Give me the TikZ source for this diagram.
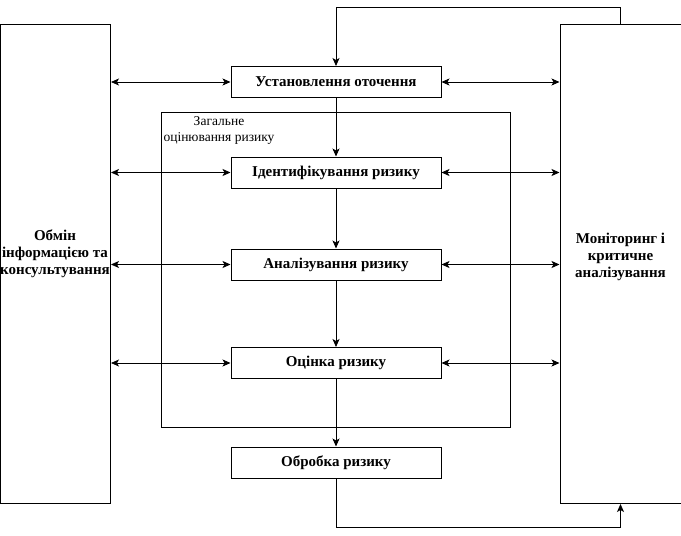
\documentclass[tikz,border=0pt]{standalone}
\usepackage{fontspec}
\setmainfont{Liberation Serif}
\usetikzlibrary{arrows.meta}
\begin{document}
\begin{tikzpicture}[x=1pt,y=-1pt,
  stepbox/.style={draw,line width=1pt,minimum width=210pt,minimum height=31pt,inner sep=0pt,font=\bfseries\fontsize{15}{17}\selectfont},
  sidebox/.style={draw,line width=1pt,inner sep=0pt},
  sidetext/.style={font=\bfseries\fontsize{15}{17}\selectfont,align=center,inner sep=0pt},
  conn/.style={line width=0.8pt,-{Stealth[length=8pt,width=7pt,inset=2pt]}},
  biconn/.style={line width=0.8pt,{Stealth[length=8pt,width=7pt,inset=2pt]}-{Stealth[length=8pt,width=7pt,inset=2pt]}}]
\useasboundingbox (0,0) rectangle (681,536);
% side boxes
\node[sidebox,minimum width=110pt,minimum height=479pt] (left) at (55.5,264) {};
\node[sidebox,minimum width=121pt,minimum height=479pt] (right) at (620.5,264) {};
\node[sidetext] (lefttext) at (55,254) {Обмін\\інформацією та\\консультування};
\node[sidetext] (righttext) at (620.5,257) {Моніторинг і\\критичне\\аналізування};
% frame
\node[draw,line width=1pt,minimum width=349pt,minimum height=315pt,inner sep=0pt] (frame) at (335.5,269.5) {};
\node[font=\fontsize{13.5}{16}\selectfont,align=center,inner sep=0pt] (framelabel) at (219,130) {Загальне\\оцінювання ризику};
% steps
\node[stepbox] (s1) at (336,82) {Установлення оточення};
\node[stepbox] (s2) at (336,172.5) {Ідентифікування ризику};
\node[stepbox] (s3) at (336,264.5) {Аналізування ризику};
\node[stepbox] (s4) at (336,363) {Оцінка ризику};
\node[stepbox] (s5) at (336,462.5) {Обробка ризику};
% vertical chain
\draw[conn] (s1) -- (s2);
\draw[conn] (s2) -- (s3);
\draw[conn] (s3) -- (s4);
\draw[conn] (s4) -- (s5);
% loops
\coordinate (tl) at (336,7.5);
\coordinate (tr) at (620.5,7.5);
\draw[conn] (right.north) -- (tr) -- (tl) -- (s1.north);
\coordinate (bl) at (336,527);
\coordinate (br) at (620.5,527);
\draw[conn] (s5.south) -- (bl) -- (br) -- (right.south);
% side connectors
\foreach \s in {s1,s2,s3,s4}{
  \draw[biconn] (left.east |- \s.west) -- (\s.west);
  \draw[biconn] (\s.east) -- (right.west |- \s.east);
}
\end{tikzpicture}
\end{document}
